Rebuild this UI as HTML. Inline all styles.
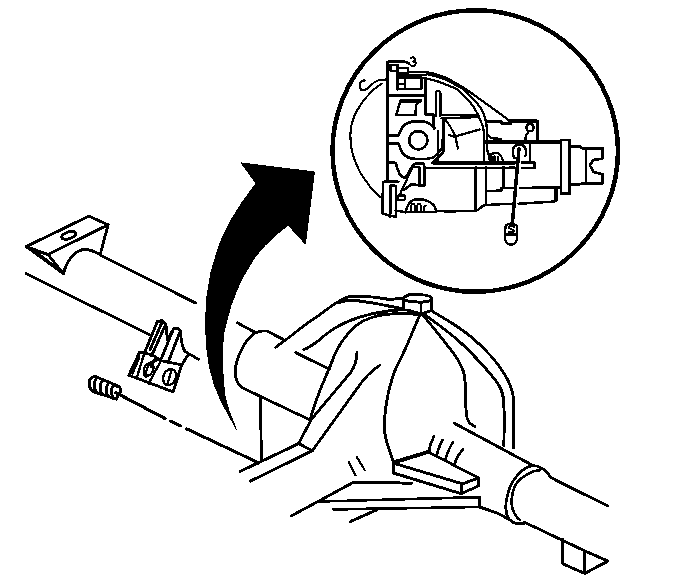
<!DOCTYPE html>
<html><head><meta charset="utf-8"><style>
html,body{margin:0;padding:0;background:#fff;width:688px;height:576px;overflow:hidden;font-family:"Liberation Sans",sans-serif;}
svg{display:block}
</style></head><body>
<svg width="688" height="576" viewBox="0 0 688 576">
<defs><filter id="bin" filterUnits="userSpaceOnUse" x="0" y="0" width="688" height="576" color-interpolation-filters="sRGB"><feComponentTransfer><feFuncA type="discrete" tableValues="0 1 1 1"/></feComponentTransfer></filter></defs>
<rect width="688" height="576" fill="#fff"/>
<g filter="url(#bin)">
<g fill="none" stroke="#000" stroke-width="2.4" stroke-linecap="round" stroke-linejoin="round">

<!-- ===== big arrow ===== -->
<path fill="#000" stroke="none" d="M240.4,162.5 L314.7,171.7 L305.5,244.6 L288.2,225.5 L276,235 L264.7,246 L255,257.5 L247.3,270.3 L241,281 L236,292.9 L231,306 L227.3,320 L224,332.6 L222.6,350 L222.9,366.4 L223.6,381 L225.1,395.8 L229,410 L237.6,431.9 L225.1,409.3 L219,397 L213.9,384.5 L209,366 L206,343.9 L205.3,320 L206.5,298 L210.8,272 L218.6,246 L224,233 L230.8,220 L242,202 L255.7,183.3 Z"/>


<!-- ===== left axle tube & spring perch ===== -->
<path d="M26.1,246.6 L88.9,216.1 L108.1,224.8 L47.9,254.5 Z"/>
<path d="M26.1,246.6 L63.6,273.7 L47.9,254.5"/>
<path d="M36,252 L59,270"/>
<path d="M108.1,224.8 L100.2,254.5"/>
<path d="M63.6,273.7 C66,262 74,251 83,249.5 C89,249 94,251 100.2,254.5"/>
<ellipse cx="68.8" cy="235.3" rx="7.5" ry="3.4" transform="rotate(-18 68.8 235.3)"/>
<path d="M100.2,255.3 L195.5,303"/>
<path d="M26.1,273.5 L149.8,335"/>

<!-- brake bracket -->
<path d="M145,351.7 L157.5,321.1 L162.4,320.8 L165.8,323.9 L151.5,356"/>
<path d="M161.7,357.8 L173.5,328.75 L178.3,328.75 L180.4,330.8 L167.9,362.8"/>
<path d="M161.8,322.5 L150,350"/>
<path d="M165.8,323.9 L167.5,339.5 L173.5,329"/>
<path d="M180.4,330.8 C181,340 182,348 185.3,351.7 L198.5,359.3"/>
<path d="M139.65,352.1 L128.8,375.25 L146.7,381.9 L173.2,391.8 L181.7,364.85 L188.3,354.5"/>
<path d="M139.65,352.1 L152.4,354.9 L160.9,360.6 L181.7,364.85"/>
<path d="M139.2,357.3 L132.6,373.4 M143.9,354.5 L137.3,376.2" stroke-width="1.9"/>
<path d="M160.9,360.6 L148.6,383.75 M155.5,357.5 L151,367" stroke-width="2"/>
<path d="M158.1,360.1 C150,361 144,365 143.9,370 C143.8,374 144.5,376 145.8,377.1" stroke-width="1.9"/>
<ellipse cx="149.9" cy="369.6" rx="3" ry="6.3" transform="rotate(22 149.9 369.6)" stroke-width="1.8"/>
<ellipse cx="169.6" cy="377.1" rx="6.3" ry="8.3" transform="rotate(22 169.6 377.1)" stroke-width="2"/>
<path d="M171.5,370.5 L167.5,383.5" stroke-width="1.8"/>

<!-- pin -->
<g transform="translate(1.5,1)">
<path d="M118.4,385.9 L94.8,375.9 C89,374.5 86.5,380 87.8,384.2 C88.5,388 90,390.2 93.1,391.2 L114.9,398.1"/>
<path d="M96,376.5 C92,379 91.5,387 95,391.5"/>
<path d="M102,379 C98,382 97.5,390 101,394"/>
<path d="M108,381.5 C104,384 103.5,392 107,396"/>
<path d="M113,383.5 C109,386 109,393 112,397.5"/>
<path d="M114,385 C119,385 120,389 119.2,390.5 C118,393 116,394 114.9,398.1"/>
</g>
<path d="M115.5,392.5 L165,418.5 M170.7,421 L180.5,426 M186.4,428.8 L258.4,462.8" stroke-width="2.6"/>

<!-- ===== housing left end / tube ===== -->
<path d="M237.3,322.8 L255.5,332.7"/>
<path d="M283.5,339.6 L267.5,331.1 C262,330.5 258,331.5 255.5,332.7 C249,337 244,344 241.5,350 C238,357 236,362 235.7,367.3 C235,375 236,380 237.6,382.6 C239,385 241,387 243.4,388.3 L310.2,420"/>
<path d="M260.6,397.9 L261.3,461"/>
<path d="M275.8,347.2 L290,336.6 C300,329 308,322 314.7,318.4 C325,311 332,305 339.4,301 C345,297 350,296 356,296 C365,296 375,297 390,299.5 L402.2,298.1"/>
<path d="M339.4,302.4 C345,300.5 350,300 355,300.5 C370,302 385,305 403.5,309"/>
<path d="M303.8,349.7 C310,347 314,344 319,340.2 C330,330 338,326 348.1,321.3 C365,314 380,311 403.5,309.5"/>
<path d="M295.8,352.6 L329.3,369.2"/>
<path d="M310.2,420 C315,400 322,385 330.7,365 C336,350 342,341 345.2,337.3 C352,328 357,324 362.7,321.3 C375,315 390,312 419.6,314.5"/>
<path d="M357,352 C357,360 355,366 351,372 L310.8,420"/>
<path d="M380.2,364.9 C372,370 364,378 356,390 L312.4,450.6"/>
<path d="M310.8,420.5 L298.5,443.6 L312.4,450.6"/>
<path d="M240,471.5 L298.5,443.6"/>
<path d="M250.5,481.1 L312.4,450.6"/>

<!-- fill plug -->
<path d="M403.5,309 L403.5,298.1 C406,295.5 409,294.2 412,294.2 L421.4,294.6 C426,295 430,296 432,298.1 L431.8,310.3 L421,313.8 Z"/>
<path d="M405.3,300.7 L421,302.4 L430.1,300.7"/>
<path d="M421,302.4 L421,313.8"/>
<path d="M420.3,314.2 C419.4,316.3 416.8,321.8 414.7,326.7 C412.6,331.6 410.1,338.0 407.8,343.3 C405.5,348.6 402.9,354.2 400.8,358.6 C398.7,363.0 396.9,366.0 395.3,369.7 C393.8,373.4 392.6,377.2 391.5,381.0 C390.4,384.8 389.4,387.5 388.4,392.5 C387.4,397.5 385.9,405.0 385.3,411.2 C384.7,417.5 384.2,424.8 384.5,430.0 C384.8,435.2 385.4,437.2 386.9,442.5 C388.4,447.8 392.3,458.8 393.4,462.0"/>
<path d="M422.4,314.5 C426.0,319.0 438.4,333.9 444.3,341.5 C450.2,349.1 454.8,354.7 458.0,360.0 C461.2,365.3 462.6,368.1 463.8,373.1 C465.1,378.1 465.1,383.5 465.5,390.0 C465.9,396.5 465.7,406.7 466.2,412.0 C466.7,417.3 467.2,419.3 468.6,421.7 C470.0,424.1 473.7,425.7 474.7,426.5"/>
<path d="M424.9,314.7 C430.2,318.8 446.8,330.5 456.5,339.0 C466.2,347.5 475.9,357.7 483.2,365.8 C490.5,373.9 496.8,380.7 500.2,387.6 C503.6,394.5 503.3,397.4 503.9,407.1 C504.5,416.8 503.9,439.5 503.9,446.0"/>
<path d="M431.0,310.5 C434.2,312.4 443.5,317.8 450.0,322.0 C456.5,326.2 463.3,330.5 470.0,336.0 C476.7,341.5 484.2,348.5 490.0,355.0 C495.8,361.5 501.3,368.8 505.0,375.0 C508.7,381.2 511.0,386.2 512.4,392.0 C513.8,397.8 513.4,400.7 513.6,410.0 C513.8,419.3 513.6,441.7 513.6,448.0"/>

<!-- housing lower left curve -->


<!-- skid / bracket lower -->
<path d="M393.4,463.2 L428.6,452.3 L478.4,477.8 L462.6,483.9 Z"/>
<path d="M393.4,463.2 L393.4,473 L461,493.6 L478.4,486 L478.4,477.8"/>
<path d="M461.5,484.3 L461.5,493.6"/>
<path d="M428.6,452.3 Q430,444 434,436 M436.6,455.5 Q438,449 442.4,440 M445.5,459.8 Q447,452 453,442 M454.8,464 Q456,457 463,449.5" stroke-width="2.2"/>
<path d="M291.4,515.9 L354.2,481.9 L411.8,483.2"/>
<path d="M320.1,501.5 L479.7,497.2 L479.7,507 L333.3,509.3" stroke-width="2.2"/>
<path d="M350.3,521.6 L377.7,509.3"/>
<path d="M479.7,507 L498,513.3"/>
<path d="M349,462.2 L355.5,475.3 M356.8,457 L364.7,470.1" stroke-width="1.7"/>
<path d="M393.4,462 L430,451"/>

<!-- right axle tube -->
<path d="M454.1,423.1 L532.7,465.4"/>
<path d="M532.7,465.4 C538,465.8 542,467.5 546.6,471.7 C548.5,474 549.5,476 550.8,477.2 L558,481.4 L608,506"/>
<path d="M532.7,465.4 C522,468 513,478 509,490 C505,502 505,513 509,519 C513,524 520,525 525.8,523" stroke-width="2.3"/>
<path d="M540,470.3 C532,470.5 522,476 516,484 C511,493 510.5,505 513.3,511 C515,515 517,518 520,520" stroke-width="2.1"/>
<path d="M524,522 L584.7,550.8"/>
<path d="M498,513.3 L508,519"/>
<path d="M562.8,539.3 L562.8,563.9 L584.7,573.4 L607.9,561.1 L584.7,550.8 L584.7,573.4"/>

<!-- ===== inset circle ===== -->

<!-- ===== inset content ===== -->
<!-- thin outline of cover on left -->
<path d="M381.7,83.7 C379.8,85.2 374.1,88.6 370.0,93.0 C365.9,97.4 360.4,104.7 357.3,110.0 C354.2,115.3 352.6,120.8 351.5,125.0 C350.4,129.2 350.4,131.3 350.4,135.0 C350.4,138.7 350.6,143.2 351.2,147.0 C351.9,150.8 352.5,153.8 354.0,158.0 C355.5,162.2 358.1,168.2 360.0,172.0 C361.9,175.8 363.7,177.8 365.7,180.6 C367.7,183.4 369.4,186.1 372.0,189.0 C374.6,191.9 379.8,196.5 381.4,198.0" stroke-width="1.6"/>
<!-- squiggles -->
<path d="M387,79.5 C380,79 376,80.5 372,84 C369,87.5 367,90 363,90.5 C360,90.5 359.5,87 360,84 C360.5,81 362.5,80 365,80.5" stroke-width="1.6"/>
<path d="M409,63.6 C410,65 411.5,66 413,66 C415,66 416,64.5 415.5,62.5 C415,61.3 413.5,61.2 413,61.5 C414.5,61 415.3,59.5 415,58.5 C414.5,57.2 412.5,57 411,57.8" stroke-width="1.6"/>
<!-- main vertical plate -->
<path d="M387.4,64 C387.4,62.5 388,61.8 389,61.8 M387.4,64 L387.4,181.7" stroke-width="2.2"/>
<path d="M387.4,61.8 L405.2,61.8 L409,63.6" stroke-width="2.2"/>
<path d="M390.5,64.8 L397.5,64.8 L397.5,71 L390.5,71 Z" stroke-width="1.8"/>
<path d="M398,68 L408.2,68 L408.2,73.5 L398,73.5 Z" stroke-width="1.8"/>
<path d="M397.5,65 L397.5,89.5" stroke-width="1.8"/>
<path d="M398,75 L426,75" stroke-width="1.2"/>
<path d="M398,77.4 L421.2,77.4 L421.2,89 L398,89 Z" stroke-width="2.1"/>
<path d="M398,84 L405,84 M405,80 L405,89" stroke-width="1.4"/>
<path d="M388.7,95.3 L425.3,95" stroke-width="2.6"/>
<path d="M425.6,78 L425.6,114.4 L433.5,114.4 L434.1,128.4"/>
<!-- parallelogram window -->
<path d="M400.3,101 L420.7,100.5 L416,105.1 L415.5,115 L396.3,115 Z" stroke-width="2"/>
<path d="M400.8,101 L420.5,101" stroke-width="2.8"/>
<!-- tab -->
<path d="M436,116 L436,93 C436,91.5 437,91 438,91 C439.5,91 440.3,92 440.3,93 L440.3,116" stroke-width="2"/>
<path d="M438.1,131 L438.1,160" stroke-width="2"/>
<path d="M441.4,115.2 L476,115.2 L478,117 L441.4,118.4" stroke-width="1.8"/>
<path d="M443.4,118 L443.4,152 L432.7,162.4" stroke-width="2"/>
<!-- cover arcs -->
<path d="M408,72 L426.6,72.2 C436,74 444,76.5 451.3,80.5 C458,84 465,88.5 470.6,92.6 L505,117.3 L509.4,121.5" stroke-width="1.8"/>
<path d="M426.6,73.8 C428.2,74.2 433.2,75.6 436.1,76.5 C439.0,77.4 441.6,78.0 444.1,79.0 C446.6,80.0 448.9,81.2 451.3,82.5 C453.7,83.8 456.5,85.3 458.6,86.5 C460.7,87.7 461.4,87.5 463.7,89.5 C466.0,91.5 469.8,95.5 472.4,98.2 C475.0,101.0 477.4,103.4 479.3,106.0 C481.2,108.6 482.4,111.0 483.6,113.9 C484.8,116.8 485.7,120.1 486.3,123.6 C486.9,127.1 486.8,130.6 487.0,135.0 C487.2,139.4 487.0,146.7 487.3,150.0 C487.6,153.3 488.2,153.0 488.7,155.0 C489.1,157.0 489.8,160.8 490.0,162.0" stroke-width="1.8"/>
<path d="M423.0,77.6 C424.7,78.0 429.7,79.2 433.2,80.2 C436.7,81.2 441.1,82.7 444.1,83.8 C447.1,84.9 448.9,85.6 451.3,86.7 C453.7,87.8 456.5,88.8 458.6,90.3 C460.7,91.8 461.4,93.1 463.7,95.6 C466.0,98.1 470.1,102.2 472.4,105.2 C474.7,108.2 476.2,111.2 477.6,113.9 C479.0,116.7 480.0,119.1 481.0,121.7 C482.0,124.3 483.0,126.3 483.5,129.3 C484.0,132.4 484.1,134.4 484.2,140.0 C484.3,145.6 484.2,159.2 484.2,163.0" stroke-width="1.8"/>
<!-- inner curved piece -->
<path d="M444.9,118.8 C449,124 452.5,130 455.4,136.3 L479.8,129.3" stroke-width="1.8"/>
<path d="M455.4,136.3 L457.9,148.5" stroke-width="1.8"/>
<path d="M449,135 L455,137" stroke-width="1.6"/>
<!-- hub -->
<circle cx="418.3" cy="140.3" r="9.2" stroke-width="2.2"/>
<path d="M388.7,135.3 L398.6,135.3 C401,128 405,123.5 409.1,122.6 C412,121.2 415,120.8 418.4,120.8 C424,121 428,122.5 431.2,124.9 C433,126 434,127 434.1,128.4" stroke-width="2.2"/>
<path d="M388.7,143.5 L398.6,143.5 C400,148 401.5,151 402.8,153.5 C406,157 411,159 416.7,159 C424,159.3 430,158.5 433.3,157.5 C437,154 440,151 441.7,148.3 C443,145 443,142 443,131" stroke-width="2.2"/>
<!-- lower left -->
<path d="M388.9,162.9 L395.8,162.9 C397,168 398.5,172 400,174.7 C401.5,177 402.5,177.5 404.2,177.5 C406,177.5 407,175.5 408.3,173.3 C410.5,169 413,164.5 415.3,163.6 L423.6,163.6 L424.3,166.4 L424.3,185.8 L411.1,184.4 L404,190" stroke-width="2.2"/>
<path d="M412.5,167.1 L419.4,166.6 L419.4,185" stroke-width="1.8"/>
<path d="M412.5,167.1 L400,194.2" stroke-width="1.8"/>
<path d="M383.3,181.7 L398.6,181.7 M383.3,181.7 C382.5,190 382.6,205 382.6,213.6 L395.8,217.1 L395.8,185.8 L389.8,185.8 L389.8,217.1" stroke-width="2"/>
<path d="M390.3,186 L390.3,214" stroke-width="2.2"/>
<path d="M397.9,195.6 L404.9,195.6 L404.9,199.7 L397.9,199.7 Z" stroke-width="1.6"/>
<path d="M395.8,210.5 L405.6,212.2 C407,205 410,201 413.9,199.7 L423.6,199.7 C429,201 433,204 434.7,206.7 L436.1,210.8 L455,212" stroke-width="2"/>
<path d="M405.6,212.2 L436.1,212" stroke-width="2"/>
<path d="M411,211.5 L411,207 C411,205 412,204 413,204 C414,204 415,205 415,207 L415,211.5 M417,211.5 L417,207 C417,205 418,204 419,204 C420,204 421,205 421,207 L421,211.5 M424,211.5 L424,208 C424,206.5 425,205.5 426,205.5" stroke-width="1.6"/>
<path d="M432.6,162.9 L515,162.9" stroke-width="2.6"/>
<path d="M432.6,163 L443,153.2" stroke-width="2"/>
<path d="M424.3,168.2 L515,167.6" stroke-width="1.8"/>
<path d="M436.1,211 L475.6,210.8 C478,210 480,209 481,207.5 C482,206 483,205.5 485.8,205 L511.6,203.75 M518.6,203.75 L554.5,201.4 L556.9,200 L556.9,187.3 L520.2,188.1 M512.5,188.1 L503.75,188.1" stroke-width="2"/>
<path d="M475.6,167 L475.6,210" stroke-width="2"/>
<path d="M485.8,167 L485.8,204 M485.8,191.25 L501.4,190.5 L501.4,188" stroke-width="2"/>
<path d="M503.75,167 L503.75,188" stroke-width="2"/>
<!-- pinion housing -->
<path d="M486.3,121.4 L500.4,121.4 L502,123.2 L510.8,123.4 M509.2,120.9 L534.8,120.6 L537.2,121 L537.2,142" stroke-width="2.6"/>


<path d="M487.3,135 L491.1,137.9 L500.7,138.9 L501.6,141.7" stroke-width="2"/>
<circle cx="530" cy="127.6" r="3.6" stroke-width="2"/>
<path d="M527.8,133 C526,134.5 525.3,136.5 525.5,140.5" stroke-width="2"/>
<path d="M485.8,142.2 L560.7,142.2" stroke-width="2.8"/>
<path d="M488.7,155 C490,154 493,153 497.8,153.2 C500,154 502,157 503.5,162 M491.5,162 L491.5,156 M494.5,162 L494.5,156 M498.5,162 L498,157" stroke-width="1.8"/>
<!-- bolt + rod -->
<path d="M514.5,158 C512.5,155 512,150 514,147 C516,144.5 520,144 523,145.5 C526,147.5 527,152 525.5,156" stroke-width="2"/>
<path d="M519,148.5 L512.3,224" stroke-width="3"/>
<path d="M530,143.7 L530,162.5 M521.9,162.5 L534.7,162.5 L534.7,168 L521.9,168" stroke-width="2"/>
<!-- spring -->
<path d="M505.5,226 C506,224 510,223.5 512,223.8 C515,224 517,225 517,227 L517,234.5 L505,234.5 Z" stroke-width="1.8"/>
<path d="M514,227 C513,225.5 508.5,225.5 508.5,227.3 C508.5,229.3 514,229.3 514,231.3 C514,233 509,233 508.5,231.5" stroke-width="1.5"/>
<path d="M505,234.5 C504.5,237 505,241 507,243.5 C509,245 513,245 515,243.5 C517,241 517.5,237 517,234.5" stroke-width="1.8"/>
<!-- flange, yoke -->
<path d="M561,140 L569.5,140 L569.8,193.8 L561,193.8 Z" stroke-width="2.2"/>
<path d="M569.8,146.4 L580.1,146.4 L581.9,148.2 L602.6,148.2 L602.6,158.6 L593.5,159.8 L589.8,165.2 L593.5,171.9 L602.6,174.3 L602.6,183.5 L581.9,183.5 L580.1,184.1 L569.8,184.1" stroke-width="2.2"/>
<path d="M586.2,148.2 L586.2,183.5" stroke-width="2"/>
<path d="M540,187.1 L560.7,187.1 M555.8,187.1 L555.8,200" stroke-width="2.2"/>

<ellipse cx="475.25" cy="151" rx="142.75" ry="140.7" stroke-width="4"/>

</g>
</g>
</svg>
</body></html>
